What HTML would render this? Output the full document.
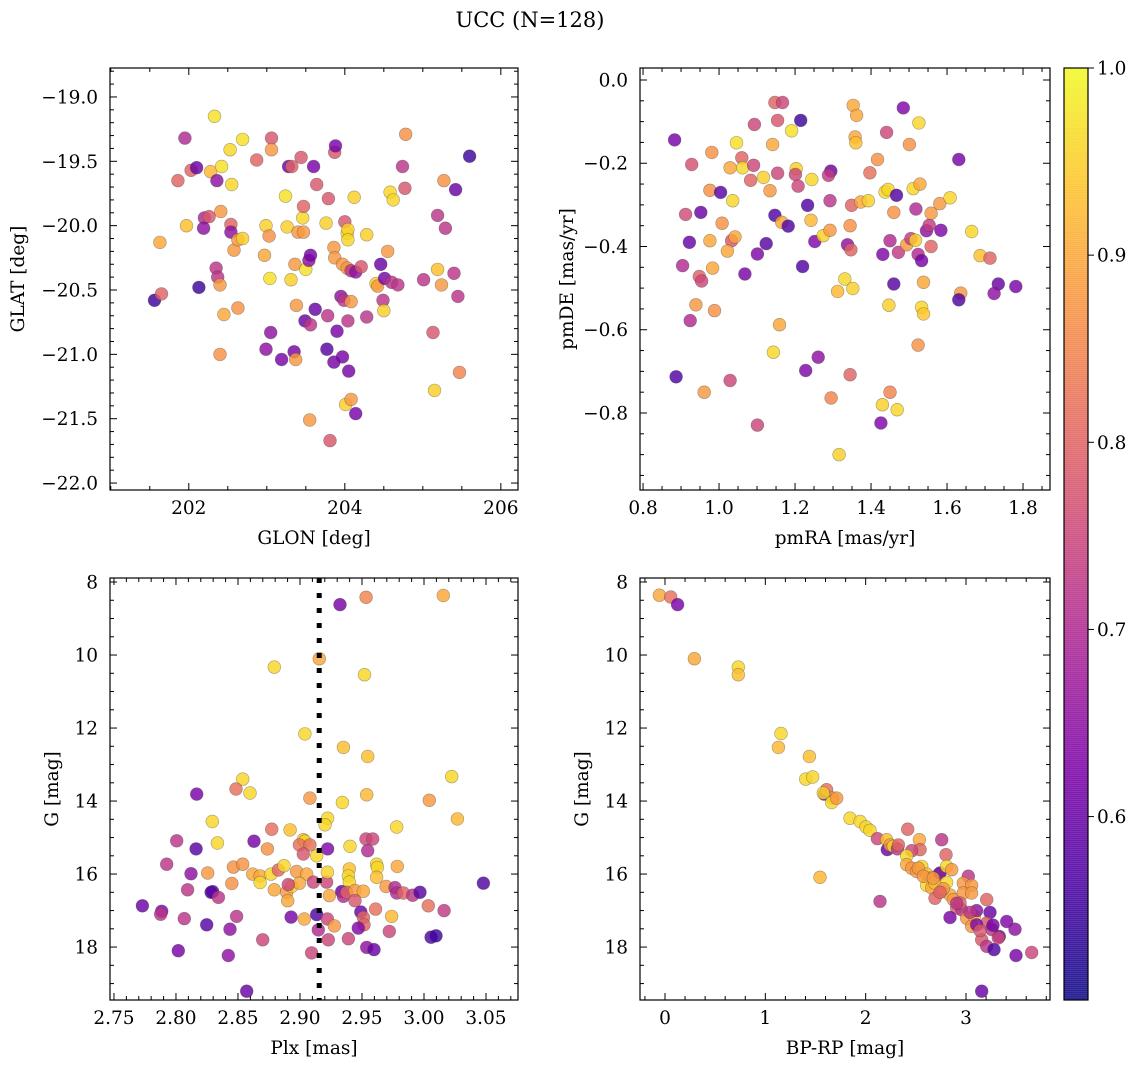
<!DOCTYPE html>
<html><head><meta charset="utf-8">
<style>
html,body{margin:0;padding:0;background:#fff;}
svg{display:block;font-family:"DejaVu Serif","Liberation Serif",serif;}
</style></head>
<body>
<svg id="chart" width="1136" height="1067" viewBox="0 0 1136 1067" xmlns="http://www.w3.org/2000/svg">
<text x="530" y="27" font-size="21" text-anchor="middle">UCC (N=128)</text>
</svg>
<script>
// ---------- data ----------
const glon = [201.56,201.65,201.63,201.86,201.95,201.97,202.03,202.1,202.13,202.2,202.19,202.26,202.33,202.28,202.36,202.42,202.35,202.37,202.4,202.41,202.45,202.4,202.53,202.55,202.54,202.54,202.58,202.63,202.69,202.63,202.69,202.87,202.99,202.97,202.99,203.03,203.05,203.06,203.06,203.04,203.19,203.24,203.26,203.28,203.31,203.32,203.35,203.36,203.37,203.4,203.38,203.44,203.46,203.47,203.47,203.5,203.49,203.54,203.56,203.55,203.56,203.6,203.62,203.64,203.76,203.77,203.78,203.79,203.81,203.86,203.86,203.87,203.87,203.88,203.9,203.95,203.99,203.97,203.97,204.0,204.03,204.04,204.04,204.03,204.04,204.05,204.01,204.08,204.08,204.12,204.08,204.14,204.14,204.21,204.28,204.28,204.4,204.42,204.46,204.49,204.5,204.51,204.55,204.58,204.62,204.6,204.68,204.74,204.77,204.78,205.01,205.13,205.15,205.19,205.19,205.24,205.27,205.29,205.4,205.42,205.45,205.47,205.6];
const glat = [-20.58,-20.53,-20.13,-19.65,-19.32,-20.0,-19.57,-19.55,-20.48,-19.94,-20.02,-19.93,-19.15,-19.58,-19.65,-19.54,-20.33,-20.4,-20.46,-19.89,-20.69,-21.0,-19.41,-19.68,-19.99,-20.05,-20.19,-20.11,-20.1,-20.64,-19.33,-19.49,-20.0,-20.23,-20.96,-20.08,-20.83,-19.32,-19.41,-20.41,-21.04,-19.77,-20.01,-19.54,-20.42,-19.54,-20.98,-20.3,-21.04,-20.05,-20.62,-19.47,-19.94,-20.05,-19.85,-20.34,-20.74,-20.27,-20.77,-21.51,-20.23,-19.54,-20.65,-19.68,-19.98,-20.96,-20.7,-19.79,-21.67,-21.06,-20.17,-20.25,-19.43,-19.38,-20.82,-20.55,-20.58,-21.02,-20.3,-19.97,-20.06,-20.03,-20.11,-20.33,-20.74,-21.13,-21.39,-21.35,-20.35,-19.78,-20.59,-21.46,-20.36,-20.32,-20.07,-20.71,-20.45,-20.47,-20.3,-20.58,-20.66,-20.41,-20.2,-19.74,-19.8,-20.44,-20.46,-19.54,-19.71,-19.29,-20.42,-20.83,-21.28,-19.92,-20.34,-20.46,-19.65,-20.02,-20.37,-19.72,-20.55,-21.14,-19.46];
const glProb = [0.55,0.8,0.9,0.8,0.7,0.93,0.8,0.6,0.55,0.7,0.65,0.78,0.97,0.92,0.65,0.97,0.72,0.72,0.88,0.88,0.9,0.87,0.96,0.96,0.8,0.65,0.88,0.88,0.95,0.87,0.97,0.8,0.95,0.9,0.65,0.87,0.65,0.78,0.88,0.97,0.62,0.97,0.95,0.6,0.95,0.8,0.62,0.88,0.88,0.88,0.88,0.78,0.96,0.88,0.8,0.97,0.6,0.65,0.72,0.88,0.62,0.62,0.6,0.78,0.95,0.58,0.72,0.78,0.78,0.62,0.88,0.88,0.78,0.62,0.62,0.65,0.72,0.62,0.88,0.78,0.96,0.95,0.96,0.88,0.72,0.62,0.95,0.88,0.72,0.95,0.88,0.62,0.65,0.78,0.95,0.72,0.95,0.88,0.6,0.72,0.95,0.62,0.88,0.96,0.96,0.72,0.72,0.72,0.78,0.87,0.72,0.78,0.95,0.72,0.93,0.88,0.87,0.72,0.72,0.6,0.72,0.85,0.55];

const pmra = [1.147,1.167,1.215,1.154,1.191,1.093,0.883,1.046,1.141,0.981,0.928,1.06,1.029,1.062,1.091,1.083,1.117,1.154,1.203,1.201,1.208,1.134,1.244,1.294,1.288,0.976,1.004,1.036,0.912,0.952,1.008,0.922,0.976,1.033,1.042,1.022,0.904,0.983,0.948,0.954,0.939,0.988,0.924,1.068,1.101,1.124,1.147,1.165,1.182,1.233,1.242,1.252,1.274,1.292,1.292,1.22,1.159,1.143,0.887,0.961,1.029,1.101,1.228,1.261,1.295,1.316,1.345,1.312,1.331,1.352,1.338,1.347,1.345,1.349,1.353,1.362,1.358,1.36,1.373,1.393,1.397,1.417,1.437,1.445,1.467,1.441,1.485,1.46,1.518,1.526,1.501,1.511,1.529,1.45,1.431,1.472,1.494,1.505,1.517,1.524,1.533,1.546,1.553,1.558,1.558,1.581,1.608,1.584,1.631,1.46,1.538,1.447,1.533,1.538,1.524,1.45,1.43,1.469,1.426,1.665,1.687,1.713,1.636,1.631,1.735,1.724,1.781];
const pmde = [-0.054,-0.054,-0.097,-0.097,-0.122,-0.107,-0.144,-0.151,-0.155,-0.174,-0.203,-0.187,-0.211,-0.211,-0.205,-0.241,-0.234,-0.224,-0.213,-0.227,-0.255,-0.266,-0.239,-0.219,-0.229,-0.265,-0.27,-0.29,-0.323,-0.318,-0.344,-0.39,-0.386,-0.386,-0.377,-0.411,-0.446,-0.452,-0.472,-0.483,-0.54,-0.554,-0.578,-0.466,-0.418,-0.393,-0.325,-0.342,-0.351,-0.301,-0.337,-0.388,-0.374,-0.361,-0.29,-0.448,-0.588,-0.654,-0.713,-0.75,-0.722,-0.829,-0.698,-0.666,-0.764,-0.9,-0.708,-0.508,-0.478,-0.501,-0.396,-0.408,-0.35,-0.301,-0.061,-0.085,-0.137,-0.151,-0.293,-0.29,-0.223,-0.191,-0.269,-0.263,-0.277,-0.126,-0.067,-0.318,-0.31,-0.103,-0.155,-0.261,-0.25,-0.386,-0.419,-0.414,-0.396,-0.381,-0.385,-0.419,-0.434,-0.362,-0.349,-0.4,-0.32,-0.297,-0.283,-0.361,-0.191,-0.49,-0.486,-0.541,-0.546,-0.562,-0.637,-0.75,-0.78,-0.792,-0.824,-0.364,-0.422,-0.428,-0.512,-0.528,-0.49,-0.513,-0.496];
const pmProb = [0.8,0.75,0.55,0.78,0.97,0.75,0.62,0.97,0.9,0.87,0.77,0.8,0.9,0.96,0.75,0.8,0.95,0.75,0.95,0.75,0.75,0.88,0.96,0.6,0.73,0.87,0.58,0.96,0.76,0.6,0.87,0.6,0.9,0.78,0.9,0.9,0.7,0.9,0.8,0.75,0.88,0.87,0.7,0.62,0.63,0.58,0.57,0.9,0.57,0.57,0.92,0.63,0.95,0.88,0.72,0.57,0.9,0.96,0.57,0.88,0.75,0.75,0.63,0.65,0.85,0.95,0.8,0.92,0.96,0.95,0.65,0.8,0.87,0.8,0.9,0.9,0.9,0.93,0.9,0.95,0.82,0.87,0.96,0.96,0.57,0.75,0.63,0.87,0.7,0.96,0.87,0.96,0.9,0.7,0.63,0.73,0.88,0.73,0.95,0.7,0.62,0.65,0.73,0.8,0.88,0.88,0.96,0.63,0.62,0.58,0.9,0.95,0.96,0.94,0.87,0.85,0.95,0.96,0.63,0.96,0.93,0.8,0.88,0.57,0.6,0.65,0.62];

const plx = [2.9323,2.9533,3.0156,2.9156,2.8793,2.952,2.904,2.935,2.9546,3.0223,2.8538,2.8484,2.8597,2.8167,2.908,2.9342,3.0043,2.9538,3.0269,2.8293,2.9223,2.9202,2.892,2.8772,2.978,2.8006,2.8162,2.8334,2.8629,2.8737,2.9027,2.904,2.8995,2.908,2.9027,2.9135,2.9223,2.9403,2.9532,2.9586,2.9546,2.7925,2.8121,2.8256,2.8463,2.8538,2.8619,2.8678,2.8766,2.8826,2.8871,2.8973,2.9054,2.9108,2.9215,2.9221,2.9398,2.939,2.9398,2.9618,2.9624,2.9618,2.9785,2.8678,2.845,2.8094,2.8296,2.8283,2.8342,2.8793,2.8893,2.8901,2.8933,2.8995,2.8906,2.9237,2.9336,2.935,2.9377,2.9444,2.9511,2.9444,2.9694,2.9766,2.978,2.9834,2.9909,2.9968,3.0479,2.7729,2.7885,2.7877,2.8067,2.8248,2.8489,2.8436,2.8928,2.9035,2.9135,2.9221,2.9277,2.9148,2.949,2.9511,2.9516,2.947,2.961,2.9739,3.0035,3.0162,2.972,3.0057,3.0097,2.8699,2.9228,2.939,2.8019,2.8422,2.9094,2.9538,2.9597,2.857];
const plxG = [8.62,8.42,8.37,10.1,10.33,10.54,12.16,12.53,12.78,13.33,13.4,13.67,13.78,13.81,13.92,14.04,13.98,13.83,14.49,14.56,14.47,14.65,14.79,14.77,14.71,15.09,15.31,15.15,15.1,15.31,15.06,15.1,15.2,15.2,15.45,15.5,15.31,15.24,15.04,15.04,15.36,15.73,15.99,15.97,15.81,15.73,16.0,16.05,16.0,15.89,15.77,15.93,16.0,16.22,16.22,15.95,15.86,16.05,16.22,15.73,15.82,16.09,15.79,16.23,16.26,16.43,16.48,16.5,16.64,16.43,16.5,16.73,16.34,16.25,16.29,16.59,16.48,16.61,16.5,16.45,16.47,16.73,16.34,16.37,16.52,16.52,16.58,16.5,16.25,16.87,17.02,17.1,17.22,17.39,17.16,17.51,17.18,17.23,17.11,17.23,17.42,17.53,17.04,17.19,17.39,17.48,16.96,17.16,16.87,17.0,17.57,17.73,17.69,17.8,17.8,17.77,18.1,18.23,18.16,18.01,18.07,19.21];
const plxProb = [0.62,0.85,0.9,0.9,0.96,0.96,0.96,0.93,0.93,0.96,0.96,0.82,0.96,0.62,0.88,0.96,0.88,0.92,0.92,0.96,0.96,0.96,0.93,0.82,0.96,0.72,0.58,0.96,0.62,0.87,0.93,0.96,0.82,0.82,0.78,0.96,0.63,0.96,0.75,0.75,0.7,0.72,0.65,0.88,0.87,0.87,0.9,0.9,0.96,0.8,0.96,0.88,0.9,0.75,0.75,0.95,0.93,0.96,0.96,0.96,0.96,0.93,0.9,0.96,0.87,0.72,0.6,0.57,0.72,0.9,0.88,0.9,0.95,0.9,0.75,0.9,0.6,0.7,0.8,0.88,0.9,0.78,0.88,0.7,0.7,0.8,0.72,0.58,0.57,0.6,0.63,0.72,0.72,0.58,0.72,0.65,0.62,0.9,0.57,0.75,0.88,0.7,0.6,0.8,0.8,0.63,0.82,0.92,0.82,0.73,0.75,0.57,0.55,0.75,0.75,0.75,0.62,0.65,0.75,0.65,0.6,0.6];
const plxMedian = 2.9155;

const bprp = [-0.056,0.057,0.126,0.293,0.731,0.731,1.156,1.13,1.439,1.402,1.472,1.588,1.611,1.671,1.578,1.661,1.711,1.545,1.844,1.944,2.003,2.043,2.117,2.143,2.209,2.216,2.243,2.276,2.316,2.326,2.419,2.535,2.542,2.459,2.409,2.409,2.459,2.509,2.558,2.608,2.641,2.608,2.658,2.691,2.724,2.741,2.758,2.801,2.807,2.857,2.807,2.758,2.691,2.84,2.874,2.907,2.957,3.023,2.973,3.056,2.973,3.056,2.84,3.007,3.083,3.056,3.106,3.206,3.239,3.206,3.256,3.156,3.206,3.279,3.332,3.322,3.405,3.488,3.498,3.655,3.156,3.106,2.94,2.525,2.575,2.674,2.774,2.741,2.907,3.04,3.14,3.269];
const cmdG = [8.36,8.41,8.62,10.1,10.33,10.54,12.15,12.53,12.78,13.4,13.34,13.81,13.69,13.92,13.78,14.04,13.92,16.09,14.47,14.56,14.71,14.8,15.03,16.75,15.06,15.33,15.2,15.24,15.31,15.2,14.77,15.06,15.33,15.36,15.5,15.74,15.84,15.93,15.79,16.0,16.11,16.31,16.38,16.25,16.02,15.97,15.06,15.47,15.79,15.88,16.23,16.48,16.66,16.57,16.7,16.93,16.98,16.06,16.25,16.31,16.52,16.52,17.19,17.21,17.16,17.43,17.0,16.7,17.05,17.34,17.52,17.8,17.98,18.07,17.71,17.75,17.3,17.51,18.23,18.15,19.21,17.39,16.79,15.84,16.06,16.11,16.4,16.5,16.8,17.05,17.55,17.4];
const cmdProb = [0.9,0.82,0.62,0.9,0.96,0.93,0.96,0.92,0.93,0.96,0.96,0.62,0.82,0.88,0.96,0.96,0.88,0.92,0.96,0.96,0.96,0.96,0.75,0.72,0.93,0.6,0.88,0.96,0.72,0.8,0.8,0.9,0.8,0.75,0.96,0.9,0.88,0.88,0.96,0.93,0.88,0.96,0.9,0.93,0.9,0.6,0.72,0.8,0.96,0.88,0.96,0.9,0.8,0.9,0.88,0.8,0.72,0.72,0.88,0.88,0.88,0.88,0.62,0.88,0.93,0.88,0.65,0.8,0.6,0.78,0.72,0.78,0.72,0.57,0.62,0.75,0.63,0.65,0.62,0.75,0.6,0.63,0.8,0.88,0.88,0.88,0.88,0.8,0.72,0.72,0.78,0.62];

const cbTicks = [0.6,0.7,0.8,0.9,1.0];
const CMIN = 0.502, CMAX = 1.0;

// ---------- helpers ----------
const NS = "http://www.w3.org/2000/svg";
const svg = document.getElementById("chart");
function mk(tag, attrs, parent){ const e=document.createElementNS(NS,tag); for(const k in attrs) e.setAttribute(k,attrs[k]); (parent||svg).appendChild(e); return e; }
const plasma = [[13,8,135],[75,3,161],[125,3,168],[168,34,150],[203,70,121],[229,107,93],[248,148,65],[253,195,40],[240,249,33]];
function cmap(v){
  let t=(v-CMIN)/(CMAX-CMIN); t=Math.max(0,Math.min(1,t));
  const p=t*(plasma.length-1), i=Math.min(plasma.length-2,Math.floor(p)), f=p-i;
  const c=plasma[i].map((a,k)=>Math.round(a+(plasma[i+1][k]-a)*f));
  return `rgb(${c[0]},${c[1]},${c[2]})`;
}
function fmt(v,d){ const s=Math.abs(v).toFixed(d); return (v< -1e-9?"\u2212":"")+s; }
const FS = 18.5;

function panel(cfg){
  const g=mk("g",{});
  
  
  const {L,R,T,B}=cfg;
  const sx=v=>L+(v-cfg.x0)/(cfg.x1-cfg.x0)*(R-L);
  const sy=v=>cfg.yInv ? T+(v-cfg.y0)/(cfg.y1-cfg.y0)*(B-T) : B-(v-cfg.y0)/(cfg.y1-cfg.y0)*(B-T);
  const pg=mk("g",{},g);
  
  
  for(let i=0;i<cfg.xs.length;i++){
    const c=mk("circle",{cx:sx(cfg.xs[i]).toFixed(1),cy:sy(cfg.ys[i]).toFixed(1),r:6.4,fill:cmap(cfg.cs[i]),"fill-opacity":0.82,stroke:"rgba(60,60,60,0.45)","stroke-width":0.6},pg);
    
    
  }
  if(cfg.vline!==undefined){
    const vl=mk("line",{x1:sx(cfg.vline),x2:sx(cfg.vline),y1:T,y2:B,stroke:"#000","stroke-width":5,"stroke-dasharray":"5,10"},g);
    
    
  }
  const tk=mk("g",{stroke:"#000","stroke-width":1},g);
  for(let v=Math.ceil(cfg.x0/cfg.xmin-1e-6)*cfg.xmin; v<=cfg.x1+1e-9; v+=cfg.xmin){
    const x=sx(v); const major=Math.abs(v/cfg.xmaj-Math.round(v/cfg.xmaj))<1e-4; const l=major?7:4;
    mk("line",{x1:x,x2:x,y1:B,y2:B-l},tk); mk("line",{x1:x,x2:x,y1:T,y2:T+l},tk);
  }
  for(let v=Math.ceil(cfg.y0/cfg.ymin-1e-6)*cfg.ymin; v<=cfg.y1+1e-9; v+=cfg.ymin){
    const y=sy(v); const major=Math.abs(v/cfg.ymaj-Math.round(v/cfg.ymaj))<1e-4; const l=major?7:4;
    mk("line",{x1:L,x2:L+l,y1:y,y2:y},tk); mk("line",{x1:R,x2:R-l,y1:y,y2:y},tk);
  }
  cfg.xticks.forEach(v=>{ const t=mk("text",{x:sx(v),y:B+24,"font-size":FS,"text-anchor":"middle"},g); t.textContent=fmt(v,cfg.xd);
      });
  cfg.yticks.forEach(v=>{ const t=mk("text",{x:L-12,y:sy(v)+6.5,"font-size":FS,"text-anchor":"end"},g); t.textContent=fmt(v,cfg.yd);
      });
  const xt=mk("text",{x:(L+R)/2,y:B+54,"font-size":FS,"text-anchor":"middle"},g); xt.textContent=cfg.xlabel;
   
  const yt=mk("text",{x:0,y:0,"font-size":FS,"text-anchor":"middle",transform:`translate(${cfg.ylx},${(T+B)/2}) rotate(-90)`},g); yt.textContent=cfg.ylabel;
   
  const fr=mk("rect",{x:L,y:T,width:R-L,height:B-T,fill:"none",stroke:"#000","stroke-width":1.2},g);
   
}

panel({name:"glon-glat-panel",L:110,R:518,T:68,B:490,x0:200.99,x1:206.22,y0:-22.054,y1:-18.775,
  xs:glon,ys:glat,cs:glProb,xmaj:2,xmin:0.5,ymaj:0.5,ymin:0.1,xticks:[202,204,206],xd:0,
  yticks:[-22,-21.5,-21,-20.5,-20,-19.5,-19],yd:1,xlabel:"GLON [deg]",ylabel:"GLAT [deg]",ylx:24});
panel({name:"pm-panel",L:640,R:1050,T:68,B:490,x0:0.792,x1:1.871,y0:-0.985,y1:0.0288,
  xs:pmra,ys:pmde,cs:pmProb,xmaj:0.2,xmin:0.05,ymaj:0.2,ymin:0.05,xticks:[0.8,1.0,1.2,1.4,1.6,1.8],xd:1,
  yticks:[-0.8,-0.6,-0.4,-0.2,0.0],yd:1,xlabel:"pmRA [mas/yr]",ylabel:"pmDE [mas/yr]",ylx:573});
panel({name:"plx-g-panel",L:110,R:518,T:578,B:1000,x0:2.7468,x1:3.0758,y0:7.89,y1:19.45,yInv:true,
  xs:plx,ys:plxG,cs:plxProb,xmaj:0.05,xmin:0.01,ymaj:2,ymin:0.5,xticks:[2.75,2.8,2.85,2.9,2.95,3.0,3.05],xd:2,
  yticks:[8,10,12,14,16,18],yd:0,xlabel:"Plx [mas]",ylabel:"G [mag]",ylx:58,vline:plxMedian});
panel({name:"cmd-panel",L:640,R:1050,T:578,B:1000,x0:-0.249,x1:3.837,y0:7.89,y1:19.45,yInv:true,
  xs:bprp,ys:cmdG,cs:cmdProb,xmaj:1,xmin:0.2,ymaj:2,ymin:0.5,xticks:[0,1,2,3],xd:0,
  yticks:[8,10,12,14,16,18],yd:0,xlabel:"BP-RP [mag]",ylabel:"G [mag]",ylx:588});

// ---------- colorbar ----------
const cb=mk("g",{});


const CL=1064, CR=1088, CT=68, CB=1000;
const cby=v=>CB-(v-CMIN)/(CMAX-CMIN)*(CB-CT);
for(let y=CT;y<CB;y+=2){
  const v=CMIN+(CB-y-1)/(CB-CT)*(CMAX-CMIN);
  mk("rect",{x:CL,y:y,width:CR-CL,height:2.5,fill:cmap(v),"fill-opacity":0.82},cb);
}
mk("rect",{x:CL,y:CT,width:CR-CL,height:CB-CT,fill:"none",stroke:"#000","stroke-width":1.2},cb);
cbTicks.forEach(v=>{
  const y=cby(v);
  mk("line",{x1:CR,x2:CR+6,y1:y,y2:y,stroke:"#000","stroke-width":1},cb);
  const t=mk("text",{x:CR+9,y:y+6.5,"font-size":FS},cb); t.textContent=v.toFixed(1);
  
  
});
</script>
</body></html>
